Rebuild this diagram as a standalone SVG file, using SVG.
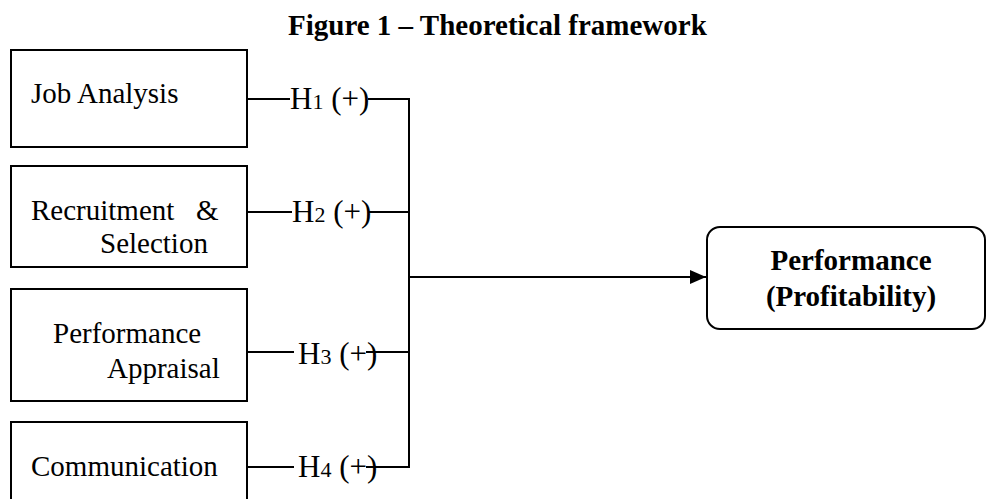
<svg xmlns="http://www.w3.org/2000/svg" width="986" height="499" viewBox="0 0 986 499">
<defs>
<style>
.box{fill:#fff;stroke:#000;stroke-width:2}
.t{font-family:"Liberation Serif","Times New Roman",serif;font-size:29px;fill:#000}
.b{font-weight:bold}
.h{font-family:"Liberation Serif","Times New Roman",serif;font-size:31px;fill:#000}
.sub{font-size:22px}
.ln{stroke:#000;stroke-width:2;fill:none}
</style>
<marker id="arrow" viewBox="0 0 16 14" refX="16" refY="7" markerWidth="16" markerHeight="14" markerUnits="userSpaceOnUse" orient="auto">
<path d="M0,0 L16,7 L0,14 z" fill="#000"/>
</marker>
</defs>
<text class="t b" x="288" y="35">Figure 1 – Theoretical framework</text>
<g id="connectors">
<path class="ln" d="M247,99 H290 M368,99 H409"/>
<path class="ln" d="M247,212 H292 M368,212 H409"/>
<path class="ln" d="M247,352 H294 M366,352 H409"/>
<path class="ln" d="M247,467 H294 M366,467 H409"/>
<path class="ln" d="M409,98 V468"/>
<path class="ln" d="M409,277 H706" marker-end="url(#arrow)"/>
</g>
<g id="labels">
<text class="h" x="290" y="109">H<tspan class="sub">1</tspan> (+)</text>
<text class="h" x="292" y="222">H<tspan class="sub">2</tspan> (+)</text>
<text class="h" x="298" y="364">H<tspan class="sub">3</tspan> (+)</text>
<text class="h" x="298" y="477">H<tspan class="sub">4</tspan> (+)</text>
</g>
<g id="job-analysis">
<rect class="box" x="11" y="50" width="236" height="97"/>
<text class="t" x="31" y="103">Job Analysis</text>
</g>
<g id="recruitment">
<rect class="box" x="11" y="166" width="236" height="101"/>
<text class="t" x="31" y="220" xml:space="preserve">Recruitment   &amp;</text>
<text class="t" x="100" y="253">Selection</text>
</g>
<g id="appraisal">
<rect class="box" x="11" y="289" width="236" height="112"/>
<text class="t" x="53" y="343">Performance</text>
<text class="t" x="107" y="378">Appraisal</text>
</g>
<g id="communication">
<rect class="box" x="11" y="422" width="236" height="90"/>
<text class="t" x="31" y="476">Communication</text>
</g>
<g id="performance">
<rect class="box" x="707" y="227" width="278" height="102" rx="13"/>
<text class="t b" x="851" y="270" text-anchor="middle">Performance</text>
<text class="t b" x="851" y="306" text-anchor="middle">(Profitability)</text>
</g>
</svg>
